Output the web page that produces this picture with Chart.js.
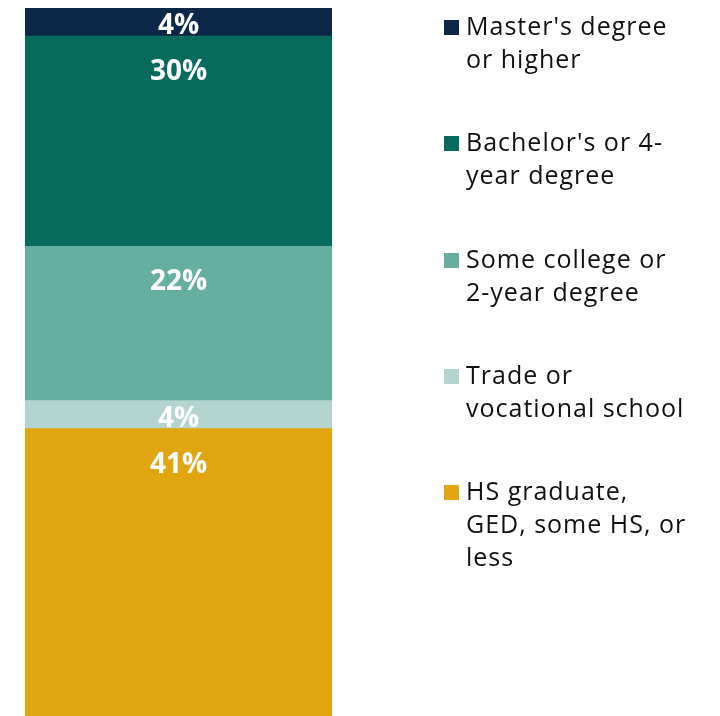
<!DOCTYPE html>
<html>
<head>
<meta charset="utf-8">
<script src="https://cdn.jsdelivr.net/npm/chart.js@4"></script>
<style>
  html, body { margin: 0; padding: 0; background: #fff; }
  #wrap { position: relative; width: 720px; height: 716px; }
  #legend {
    position: absolute; left: 444px; top: 9px; width: 276px;
    font-family: "Open Sans", sans-serif; font-size: 25px; line-height: 33px;
    letter-spacing: 1px; color: #111; white-space: nowrap;
  }
  .item { position: relative; padding-left: 22px; height: 66px; margin-bottom: 50.3px; }
  .box { position: absolute; left: 0; top: 11px; width: 15px; height: 15px; }
</style>
</head>
<body>
<div id="wrap">
  <canvas id="myChart" width="720" height="716"></canvas>
  <div id="legend"></div>
</div>
<script>
// bottom to top
var kategori = ["HS graduate, GED, some HS, or less", "Trade or vocational school", "Some college or 2-year degree", "Bachelor's or 4-year degree", "Master's degree or higher"];
var persen = [41, 4, 22, 30, 4];
var warna = ["#E0A50F", "#B3D4CF", "#66AFA0", "#066B5C", "#0C2747"];
var legendText = [
  ["HS graduate,", "GED, some HS, or", "less"],
  ["Trade or", "vocational school"],
  ["Some college or", "2-year degree"],
  ["Bachelor's or 4-", "year degree"],
  ["Master's degree", "or higher"]
];

var datasets = kategori.map(function (k, i) {
  return {
    label: k,
    data: [persen[i]],
    backgroundColor: warna[i],
    borderWidth: 0,
    barPercentage: 1,
    categoryPercentage: 1
  };
});

// percent labels near the top of each segment
var labelPlugin = {
  id: "segLabels",
  afterDatasetsDraw: function (chart) {
    var ctx = chart.ctx;
    ctx.save();
    ctx.fillStyle = "#fff";
    ctx.font = "bold 28px 'Open Sans', sans-serif";
    ctx.textAlign = "center";
    ctx.textBaseline = "middle";
    chart.data.datasets.forEach(function (ds, i) {
      var bar = chart.getDatasetMeta(i).data[0];
      var h = bar.base - bar.y;
      var y = bar.y + Math.min(36, h / 2 + 4);
      ctx.fillText(ds.data[0] + "%", bar.x, y);
    });
    ctx.restore();
  }
};

new Chart(document.getElementById("myChart"), {
  type: "bar",
  data: { labels: [""], datasets: datasets },
  options: {
    responsive: false,
    animation: false,
    layout: { padding: { left: 25, right: 388, top: 8, bottom: 0 } },
    plugins: { legend: { display: false }, tooltip: { enabled: false } },
    scales: {
      x: { stacked: true, display: false },
      y: { stacked: true, display: false, min: 0, max: 101 }
    }
  },
  plugins: [labelPlugin]
});

// legend, top to bottom
var legend = document.getElementById("legend");
for (var i = kategori.length - 1; i >= 0; i--) {
  var item = document.createElement("div");
  item.className = "item";
  var box = document.createElement("span");
  box.className = "box";
  box.style.background = warna[i];
  item.appendChild(box);
  item.insertAdjacentHTML("beforeend", legendText[i].join("<br>"));
  legend.appendChild(item);
}
</script>
</body>
</html>
